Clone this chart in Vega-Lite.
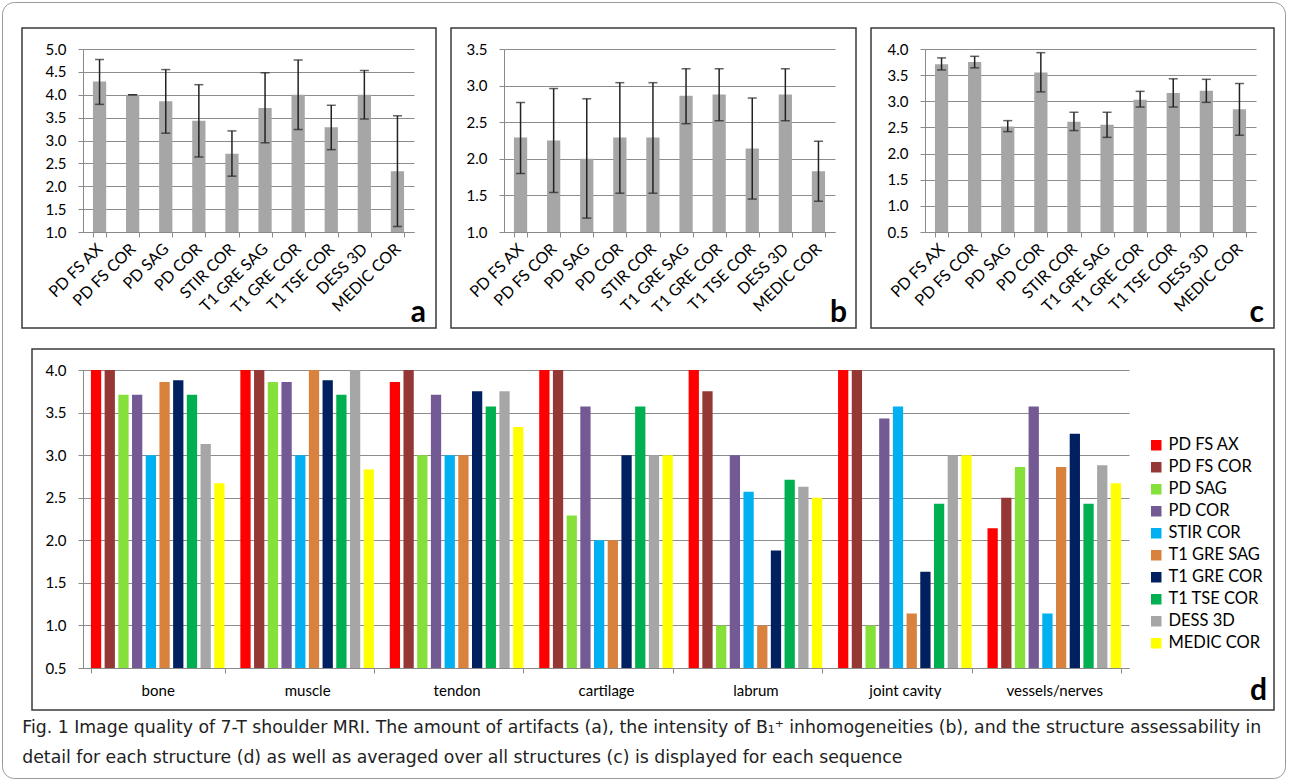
{
  "$schema": "https://vega.github.io/schema/vega-lite/v6.json",
  "background": "white",
  "padding": {"left": 1, "top": 1, "right": 1, "bottom": 1},
  "datasets": {
    "none": [],
    "top": [
      {"panel": "a", "sequence": "PD FS AX", "mean": 4.29, "lo": 3.79, "hi": 4.77},
      {"panel": "a", "sequence": "PD FS COR", "mean": 4.0, "lo": 4.0, "hi": 4.0},
      {"panel": "a", "sequence": "PD SAG", "mean": 3.86, "lo": 3.16, "hi": 4.55},
      {"panel": "a", "sequence": "PD COR", "mean": 3.43, "lo": 2.64, "hi": 4.22},
      {"panel": "a", "sequence": "STIR COR", "mean": 2.71, "lo": 2.22, "hi": 3.21},
      {"panel": "a", "sequence": "T1 GRE SAG", "mean": 3.71, "lo": 2.95, "hi": 4.48},
      {"panel": "a", "sequence": "T1 GRE COR", "mean": 4.0, "lo": 3.24, "hi": 4.76},
      {"panel": "a", "sequence": "T1 TSE COR", "mean": 3.29, "lo": 2.8, "hi": 3.77},
      {"panel": "a", "sequence": "DESS 3D", "mean": 4.0, "lo": 3.47, "hi": 4.53},
      {"panel": "a", "sequence": "MEDIC COR", "mean": 2.33, "lo": 1.12, "hi": 3.54},
      {"panel": "b", "sequence": "PD FS AX", "mean": 2.29, "lo": 1.8, "hi": 2.77},
      {"panel": "b", "sequence": "PD FS COR", "mean": 2.25, "lo": 1.54, "hi": 2.96},
      {"panel": "b", "sequence": "PD SAG", "mean": 2.0, "lo": 1.19, "hi": 2.82},
      {"panel": "b", "sequence": "PD COR", "mean": 2.29, "lo": 1.53, "hi": 3.04},
      {"panel": "b", "sequence": "STIR COR", "mean": 2.29, "lo": 1.53, "hi": 3.04},
      {"panel": "b", "sequence": "T1 GRE SAG", "mean": 2.86, "lo": 2.48, "hi": 3.23},
      {"panel": "b", "sequence": "T1 GRE COR", "mean": 2.88, "lo": 2.52, "hi": 3.23},
      {"panel": "b", "sequence": "T1 TSE COR", "mean": 2.14, "lo": 1.45, "hi": 2.83},
      {"panel": "b", "sequence": "DESS 3D", "mean": 2.88, "lo": 2.52, "hi": 3.23},
      {"panel": "b", "sequence": "MEDIC COR", "mean": 1.83, "lo": 1.42, "hi": 2.24},
      {"panel": "c", "sequence": "PD FS AX", "mean": 3.71, "lo": 3.6, "hi": 3.83},
      {"panel": "c", "sequence": "PD FS COR", "mean": 3.75, "lo": 3.64, "hi": 3.86},
      {"panel": "c", "sequence": "PD SAG", "mean": 2.52, "lo": 2.42, "hi": 2.63},
      {"panel": "c", "sequence": "PD COR", "mean": 3.55, "lo": 3.18, "hi": 3.93},
      {"panel": "c", "sequence": "STIR COR", "mean": 2.61, "lo": 2.44, "hi": 2.79},
      {"panel": "c", "sequence": "T1 GRE SAG", "mean": 2.55, "lo": 2.31, "hi": 2.79},
      {"panel": "c", "sequence": "T1 GRE COR", "mean": 3.03, "lo": 2.89, "hi": 3.19},
      {"panel": "c", "sequence": "T1 TSE COR", "mean": 3.16, "lo": 2.89, "hi": 3.43},
      {"panel": "c", "sequence": "DESS 3D", "mean": 3.2, "lo": 2.98, "hi": 3.42},
      {"panel": "c", "sequence": "MEDIC COR", "mean": 2.85, "lo": 2.35, "hi": 3.34}
    ],
    "detail": [
      {"structure": "bone", "sequence": "PD FS AX", "score": 4.0},
      {"structure": "bone", "sequence": "PD FS COR", "score": 4.0},
      {"structure": "bone", "sequence": "PD SAG", "score": 3.71},
      {"structure": "bone", "sequence": "PD COR", "score": 3.71},
      {"structure": "bone", "sequence": "STIR COR", "score": 3.0},
      {"structure": "bone", "sequence": "T1 GRE SAG", "score": 3.86},
      {"structure": "bone", "sequence": "T1 GRE COR", "score": 3.88},
      {"structure": "bone", "sequence": "T1 TSE COR", "score": 3.71},
      {"structure": "bone", "sequence": "DESS 3D", "score": 3.13},
      {"structure": "bone", "sequence": "MEDIC COR", "score": 2.67},
      {"structure": "muscle", "sequence": "PD FS AX", "score": 4.0},
      {"structure": "muscle", "sequence": "PD FS COR", "score": 4.0},
      {"structure": "muscle", "sequence": "PD SAG", "score": 3.86},
      {"structure": "muscle", "sequence": "PD COR", "score": 3.86},
      {"structure": "muscle", "sequence": "STIR COR", "score": 3.0},
      {"structure": "muscle", "sequence": "T1 GRE SAG", "score": 4.0},
      {"structure": "muscle", "sequence": "T1 GRE COR", "score": 3.88},
      {"structure": "muscle", "sequence": "T1 TSE COR", "score": 3.71},
      {"structure": "muscle", "sequence": "DESS 3D", "score": 4.0},
      {"structure": "muscle", "sequence": "MEDIC COR", "score": 2.83},
      {"structure": "tendon", "sequence": "PD FS AX", "score": 3.86},
      {"structure": "tendon", "sequence": "PD FS COR", "score": 4.0},
      {"structure": "tendon", "sequence": "PD SAG", "score": 3.0},
      {"structure": "tendon", "sequence": "PD COR", "score": 3.71},
      {"structure": "tendon", "sequence": "STIR COR", "score": 3.0},
      {"structure": "tendon", "sequence": "T1 GRE SAG", "score": 3.0},
      {"structure": "tendon", "sequence": "T1 GRE COR", "score": 3.75},
      {"structure": "tendon", "sequence": "T1 TSE COR", "score": 3.57},
      {"structure": "tendon", "sequence": "DESS 3D", "score": 3.75},
      {"structure": "tendon", "sequence": "MEDIC COR", "score": 3.33},
      {"structure": "cartilage", "sequence": "PD FS AX", "score": 4.0},
      {"structure": "cartilage", "sequence": "PD FS COR", "score": 4.0},
      {"structure": "cartilage", "sequence": "PD SAG", "score": 2.29},
      {"structure": "cartilage", "sequence": "PD COR", "score": 3.57},
      {"structure": "cartilage", "sequence": "STIR COR", "score": 2.0},
      {"structure": "cartilage", "sequence": "T1 GRE SAG", "score": 2.0},
      {"structure": "cartilage", "sequence": "T1 GRE COR", "score": 3.0},
      {"structure": "cartilage", "sequence": "T1 TSE COR", "score": 3.57},
      {"structure": "cartilage", "sequence": "DESS 3D", "score": 3.0},
      {"structure": "cartilage", "sequence": "MEDIC COR", "score": 3.0},
      {"structure": "labrum", "sequence": "PD FS AX", "score": 4.0},
      {"structure": "labrum", "sequence": "PD FS COR", "score": 3.75},
      {"structure": "labrum", "sequence": "PD SAG", "score": 1.0},
      {"structure": "labrum", "sequence": "PD COR", "score": 3.0},
      {"structure": "labrum", "sequence": "STIR COR", "score": 2.57},
      {"structure": "labrum", "sequence": "T1 GRE SAG", "score": 1.0},
      {"structure": "labrum", "sequence": "T1 GRE COR", "score": 1.88},
      {"structure": "labrum", "sequence": "T1 TSE COR", "score": 2.71},
      {"structure": "labrum", "sequence": "DESS 3D", "score": 2.63},
      {"structure": "labrum", "sequence": "MEDIC COR", "score": 2.5},
      {"structure": "joint cavity", "sequence": "PD FS AX", "score": 4.0},
      {"structure": "joint cavity", "sequence": "PD FS COR", "score": 4.0},
      {"structure": "joint cavity", "sequence": "PD SAG", "score": 1.0},
      {"structure": "joint cavity", "sequence": "PD COR", "score": 3.43},
      {"structure": "joint cavity", "sequence": "STIR COR", "score": 3.57},
      {"structure": "joint cavity", "sequence": "T1 GRE SAG", "score": 1.14},
      {"structure": "joint cavity", "sequence": "T1 GRE COR", "score": 1.63},
      {"structure": "joint cavity", "sequence": "T1 TSE COR", "score": 2.43},
      {"structure": "joint cavity", "sequence": "DESS 3D", "score": 3.0},
      {"structure": "joint cavity", "sequence": "MEDIC COR", "score": 3.0},
      {"structure": "vessels/nerves", "sequence": "PD FS AX", "score": 2.14},
      {"structure": "vessels/nerves", "sequence": "PD FS COR", "score": 2.5},
      {"structure": "vessels/nerves", "sequence": "PD SAG", "score": 2.86},
      {"structure": "vessels/nerves", "sequence": "PD COR", "score": 3.57},
      {"structure": "vessels/nerves", "sequence": "STIR COR", "score": 1.14},
      {"structure": "vessels/nerves", "sequence": "T1 GRE SAG", "score": 2.86},
      {"structure": "vessels/nerves", "sequence": "T1 GRE COR", "score": 3.25},
      {"structure": "vessels/nerves", "sequence": "T1 TSE COR", "score": 2.43},
      {"structure": "vessels/nerves", "sequence": "DESS 3D", "score": 2.88},
      {"structure": "vessels/nerves", "sequence": "MEDIC COR", "score": 2.67}
    ]
  },
  "config": {
    "font": "Lato",
    "view": {"stroke": null},
    "axis": {
      "labelFont": "Lato",
      "labelColor": "#000000",
      "domainColor": "#8a8a8a",
      "tickColor": "#8a8a8a",
      "gridColor": "#8c8c8c",
      "gridOpacity": 1,
      "tickSize": 5
    },
    "title": {"font": "Lato", "color": "#000000"}
  },
  "spacing": 26,
  "bounds": "flush",
  "vconcat": [
    {
      "bounds": "flush",
      "hconcat": [
        {"width": 1283, "height": 776, "data": {"name": "none"}, "mark": "point",
         "view": {"stroke": "#9a9a9a", "strokeWidth": 1, "cornerRadius": 12, "fill": null}}
      ]
    },
    {
      "bounds": "flush",
      "spacing": 19,
      "hconcat": [
        {"width": 1, "height": 1, "data": {"name": "none"}, "mark": "point"},
        {
          "bounds": "flush",
          "spacing": 21,
          "title": {
            "text": ["Fig. 1 Image quality of 7-T shoulder MRI. The amount of artifacts (a), the intensity of B₁⁺ inhomogeneities (b), and the structure assessability in", "detail for each structure (d) as well as averaged over all structures (c) is displayed for each sequence"],
            "orient": "bottom",
            "anchor": "start",
            "frame": "bounds",
            "font": "DejaVu Sans",
            "fontSize": 17.3,
            "fontWeight": "normal",
            "lineHeight": 30,
            "offset": 8,
            "dx": 1,
            "color": "#222222"
          },
          "vconcat": [
            {
              "bounds": "flush",
              "spacing": 321,
              "vconcat": [
                {
                  "bounds": "flush",
                  "spacing": 15,
                  "hconcat": [
                    {"width": 414, "height": 300, "data": {"name": "none"}, "mark": "point", "view": {"stroke": "#3a3a3a", "strokeWidth": 1.5, "fill": null}},
                    {"width": 405, "height": 300, "data": {"name": "none"}, "mark": "point", "view": {"stroke": "#3a3a3a", "strokeWidth": 1.5, "fill": null}},
                    {"width": 403, "height": 300, "data": {"name": "none"}, "mark": "point", "view": {"stroke": "#3a3a3a", "strokeWidth": 1.5, "fill": null}}
                  ]
                },
                {
                  "bounds": "flush",
                  "spacing": 9,
                  "hconcat": [
                    {"width": 1, "height": 1, "data": {"name": "none"}, "mark": "point"},
                    {"width": 1242, "height": 361, "data": {"name": "none"}, "mark": "point", "view": {"stroke": "#3a3a3a", "strokeWidth": 1.5, "fill": null}}
                  ]
                }
              ]
            },
            {
              "bounds": "flush",
              "spacing": 60,
              "hconcat": [
                {"width": 1, "height": 1, "data": {"name": "none"}, "mark": "point"},
                {
                  "spacing": 321,
                  "bounds": "flush",
                  "vconcat": [
                    {
                      "spacing": 90,
                      "bounds": "flush",
                      "hconcat": [
                        {
                          "width": 331, "height": 183,
                          "data": {"name": "top"},
                          "transform": [{"filter": "datum.panel === 'a'"}],
                          "title": {"text": "a", "orient": "bottom", "anchor": "end", "fontSize": 30, "fontWeight": "bold", "dx": 12, "offset": -18},
                          "encoding": {
                            "x": {"field": "sequence", "type": "nominal", "sort": null,
                              "scale": {"paddingInner": 0.6, "paddingOuter": 0.3},
                              "axis": {"title": null, "labelAngle": -45, "labelAlign": "right", "labelBaseline": "middle", "labelFontSize": 16, "tickBand": "extent", "labelPadding": 9}}
                          },
                          "layer": [
                            {"mark": {"type": "bar", "color": "#A6A6A6", "clip": true},
                             "encoding": {"y": {"field": "mean", "type": "quantitative", "scale": {"domain": [1, 5], "nice": false, "zero": false},
                               "axis": {"title": null, "values": [1, 1.5, 2, 2.5, 3, 3.5, 4, 4.5, 5], "format": ".1f", "grid": true, "labelFontSize": 15, "labelPadding": 12}}}},
                            {"mark": {"type": "rule", "color": "#222222", "strokeWidth": 1.5},
                             "encoding": {"y": {"field": "lo", "type": "quantitative", "axis": {"title": null, "values": [1, 1.5, 2, 2.5, 3, 3.5, 4, 4.5, 5], "format": ".1f", "grid": true, "labelFontSize": 15, "labelPadding": 12}}, "y2": {"field": "hi"}}},
                            {"mark": {"type": "tick", "color": "#222222", "thickness": 1.5, "size": 9},
                             "encoding": {"y": {"field": "lo", "type": "quantitative", "axis": {"title": null, "values": [1, 1.5, 2, 2.5, 3, 3.5, 4, 4.5, 5], "format": ".1f", "grid": true, "labelFontSize": 15, "labelPadding": 12}}}},
                            {"mark": {"type": "tick", "color": "#222222", "thickness": 1.5, "size": 9},
                             "encoding": {"y": {"field": "hi", "type": "quantitative", "axis": {"title": null, "values": [1, 1.5, 2, 2.5, 3, 3.5, 4, 4.5, 5], "format": ".1f", "grid": true, "labelFontSize": 15, "labelPadding": 12}}}}
                          ]
                        },
                        {
                          "width": 331, "height": 183,
                          "data": {"name": "top"},
                          "transform": [{"filter": "datum.panel === 'b'"}],
                          "title": {"text": "b", "orient": "bottom", "anchor": "end", "fontSize": 30, "fontWeight": "bold", "dx": 12, "offset": -18},
                          "encoding": {
                            "x": {"field": "sequence", "type": "nominal", "sort": null,
                              "scale": {"paddingInner": 0.6, "paddingOuter": 0.3},
                              "axis": {"title": null, "labelAngle": -45, "labelAlign": "right", "labelBaseline": "middle", "labelFontSize": 16, "tickBand": "extent", "labelPadding": 9}}
                          },
                          "layer": [
                            {"mark": {"type": "bar", "color": "#A6A6A6", "clip": true},
                             "encoding": {"y": {"field": "mean", "type": "quantitative", "scale": {"domain": [1, 3.5], "nice": false, "zero": false},
                               "axis": {"title": null, "values": [1, 1.5, 2, 2.5, 3, 3.5], "format": ".1f", "grid": true, "labelFontSize": 15, "labelPadding": 12}}}},
                            {"mark": {"type": "rule", "color": "#222222", "strokeWidth": 1.5},
                             "encoding": {"y": {"field": "lo", "type": "quantitative", "axis": {"title": null, "values": [1, 1.5, 2, 2.5, 3, 3.5], "format": ".1f", "grid": true, "labelFontSize": 15, "labelPadding": 12}}, "y2": {"field": "hi"}}},
                            {"mark": {"type": "tick", "color": "#222222", "thickness": 1.5, "size": 9},
                             "encoding": {"y": {"field": "lo", "type": "quantitative", "axis": {"title": null, "values": [1, 1.5, 2, 2.5, 3, 3.5], "format": ".1f", "grid": true, "labelFontSize": 15, "labelPadding": 12}}}},
                            {"mark": {"type": "tick", "color": "#222222", "thickness": 1.5, "size": 9},
                             "encoding": {"y": {"field": "hi", "type": "quantitative", "axis": {"title": null, "values": [1, 1.5, 2, 2.5, 3, 3.5], "format": ".1f", "grid": true, "labelFontSize": 15, "labelPadding": 12}}}}
                          ]
                        },
                        {
                          "width": 331, "height": 183,
                          "data": {"name": "top"},
                          "transform": [{"filter": "datum.panel === 'c'"}],
                          "title": {"text": "c", "orient": "bottom", "anchor": "end", "fontSize": 30, "fontWeight": "bold", "dx": 8, "offset": -18},
                          "encoding": {
                            "x": {"field": "sequence", "type": "nominal", "sort": null,
                              "scale": {"paddingInner": 0.6, "paddingOuter": 0.3},
                              "axis": {"title": null, "labelAngle": -45, "labelAlign": "right", "labelBaseline": "middle", "labelFontSize": 16, "tickBand": "extent", "labelPadding": 9}}
                          },
                          "layer": [
                            {"mark": {"type": "bar", "color": "#A6A6A6", "clip": true},
                             "encoding": {"y": {"field": "mean", "type": "quantitative", "scale": {"domain": [0.5, 4], "nice": false, "zero": false},
                               "axis": {"title": null, "values": [0.5, 1, 1.5, 2, 2.5, 3, 3.5, 4], "format": ".1f", "grid": true, "labelFontSize": 15, "labelPadding": 12}}}},
                            {"mark": {"type": "rule", "color": "#222222", "strokeWidth": 1.5},
                             "encoding": {"y": {"field": "lo", "type": "quantitative", "axis": {"title": null, "values": [0.5, 1, 1.5, 2, 2.5, 3, 3.5, 4], "format": ".1f", "grid": true, "labelFontSize": 15, "labelPadding": 12}}, "y2": {"field": "hi"}}},
                            {"mark": {"type": "tick", "color": "#222222", "thickness": 1.5, "size": 9},
                             "encoding": {"y": {"field": "lo", "type": "quantitative", "axis": {"title": null, "values": [0.5, 1, 1.5, 2, 2.5, 3, 3.5, 4], "format": ".1f", "grid": true, "labelFontSize": 15, "labelPadding": 12}}}},
                            {"mark": {"type": "tick", "color": "#222222", "thickness": 1.5, "size": 9},
                             "encoding": {"y": {"field": "hi", "type": "quantitative", "axis": {"title": null, "values": [0.5, 1, 1.5, 2, 2.5, 3, 3.5, 4], "format": ".1f", "grid": true, "labelFontSize": 15, "labelPadding": 12}}}}
                          ]
                        }
                      ]
                    },
                    {
                      "width": 1046, "height": 298,
                      "data": {"name": "detail"},
                      "title": {"text": "d", "orient": "bottom", "anchor": "end", "frame": "group", "fontSize": 30, "fontWeight": "bold", "dx": 138, "offset": -22},
                      "mark": {"type": "bar", "clip": true},
                      "encoding": {
                        "x": {"field": "structure", "type": "nominal", "sort": null,
                          "scale": {"paddingInner": 0.106, "paddingOuter": 0.053},
                          "axis": {"title": null, "labelAngle": 0, "labelFontSize": 15, "tickBand": "extent", "labelPadding": 10}},
                        "xOffset": {"field": "sequence", "type": "nominal",
                          "sort": ["PD FS AX", "PD FS COR", "PD SAG", "PD COR", "STIR COR", "T1 GRE SAG", "T1 GRE COR", "T1 TSE COR", "DESS 3D", "MEDIC COR"],
                          "scale": {"paddingInner": 0.25, "paddingOuter": 0}},
                        "y": {"field": "score", "type": "quantitative", "scale": {"domain": [0.5, 4], "nice": false, "zero": false},
                          "axis": {"title": null, "values": [0.5, 1, 1.5, 2, 2.5, 3, 3.5, 4], "format": ".1f", "grid": true, "labelFontSize": 15, "labelPadding": 12}},
                        "color": {"field": "sequence", "type": "nominal",
                          "sort": ["PD FS AX", "PD FS COR", "PD SAG", "PD COR", "STIR COR", "T1 GRE SAG", "T1 GRE COR", "T1 TSE COR", "DESS 3D", "MEDIC COR"],
                          "scale": {"domain": ["PD FS AX", "PD FS COR", "PD SAG", "PD COR", "STIR COR", "T1 GRE SAG", "T1 GRE COR", "T1 TSE COR", "DESS 3D", "MEDIC COR"],
                            "range": ["#FF0000", "#953735", "#86E03A", "#745A94", "#00B0F0", "#D9823E", "#002060", "#00B050", "#A6A6A6", "#FFFF00"]},
                          "legend": {"title": null, "orient": "none", "legendX": 1146, "legendY": 435, "symbolType": "square", "symbolSize": 110, "symbolStrokeWidth": 0, "labelFont": "Lato", "labelFontSize": 16.5, "labelColor": "#000000", "rowPadding": 5, "labelOffset": 4}}
                      }
                    }
                  ]
                }
              ]
            }
          ]
        }
      ]
    }
  ]
}
